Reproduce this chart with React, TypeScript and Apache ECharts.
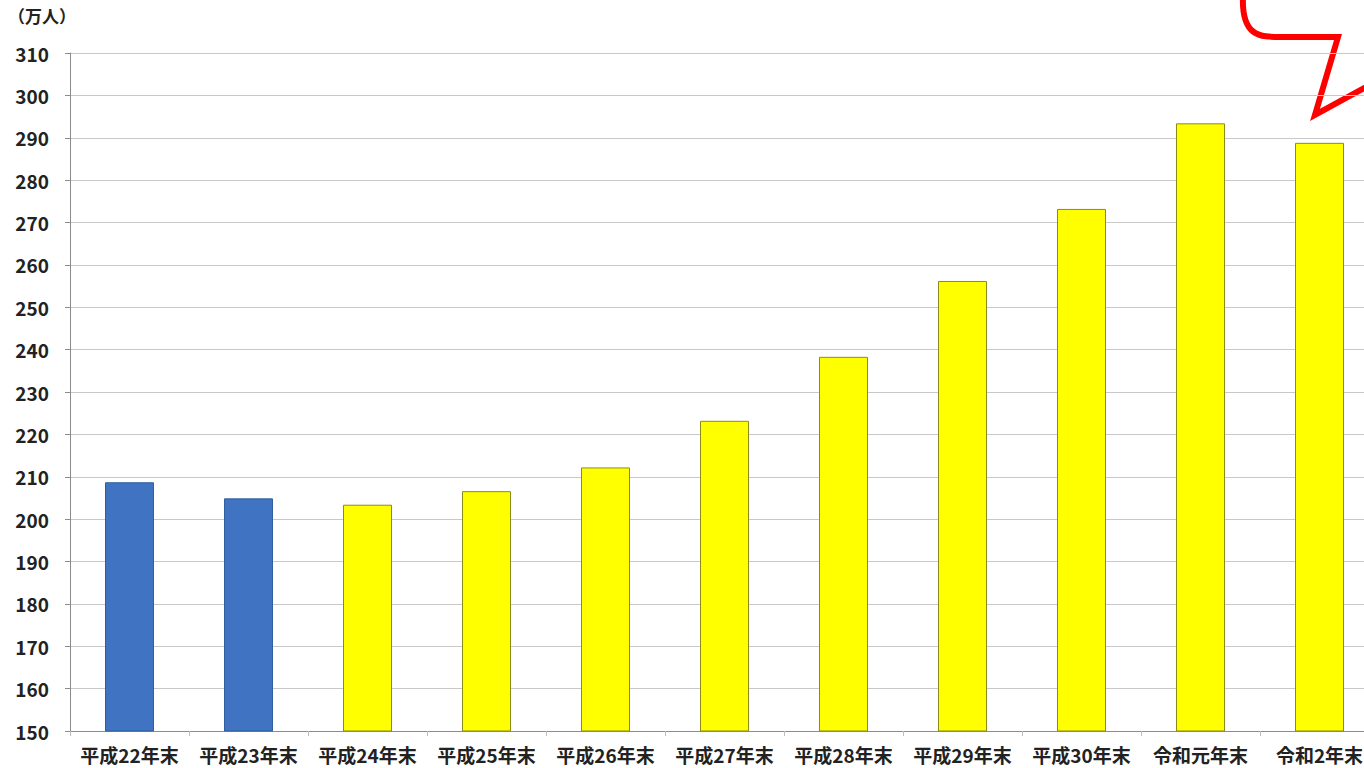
import React, { useEffect, useRef } from "react";
import * as echarts from "echarts";

const categories = [
  "平成22年末", "平成23年末", "平成24年末", "平成25年末", "平成26年末",
  "平成27年末", "平成28年末", "平成29年末", "平成30年末", "令和元年末", "令和2年末",
];
const values = [208.7, 204.9, 203.4, 206.6, 212.2, 223.2, 238.3, 256.2, 273.2, 293.4, 288.8];
const yTicks = { min: 150, max: 310, interval: 10 };
const unitLabel = "（万人）";

const FONT = "'Noto Sans CJK JP', 'Noto Sans', sans-serif";

export default function App() {
  const ref = useRef<HTMLDivElement>(null);
  useEffect(() => {
    if (!ref.current) return;
    const chart = echarts.init(ref.current, undefined, { renderer: "svg" });
    chart.setOption({
      animation: false,
      backgroundColor: "#ffffff",
      grid: { left: 70, top: 53, width: 1309, height: 678, containLabel: false },
      xAxis: {
        type: "category",
        data: categories,
        boundaryGap: true,
        axisLine: { lineStyle: { color: "#8c8c8c", width: 1 } },
        axisTick: { show: true, length: 5, lineStyle: { color: "#bdbdbd" }, alignWithLabel: false },
        axisLabel: {
          color: "#222222",
          fontFamily: FONT,
          fontSize: 19,
          fontWeight: "bold",
          margin: 14,
          interval: 0,
        },
      },
      yAxis: {
        type: "value",
        min: yTicks.min,
        max: yTicks.max,
        interval: yTicks.interval,
        axisLine: { show: true, lineStyle: { color: "#8c8c8c", width: 1 } },
        axisTick: { show: true, length: 5, lineStyle: { color: "#8c8c8c" } },
        splitLine: { show: true, lineStyle: { color: "#c8c8c8", width: 1 } },
        axisLabel: {
          color: "#222222",
          fontFamily: FONT,
          fontSize: 19,
          fontWeight: "bold",
          margin: 21,
        },
      },
      series: [
        {
          type: "bar",
          barWidth: 49,
          data: values.map((v, i) => ({
            value: v,
            itemStyle:
              i < 2
                ? { color: "#4074c3", borderColor: "#2f5f9e", borderWidth: 1 }
                : { color: "#ffff00", borderColor: "#8b8b1a", borderWidth: 1 },
          })),
        },
      ],
      graphic: [
        {
          type: "text",
          left: 8,
          top: 7,
          style: {
            text: unitLabel,
            fontFamily: FONT,
            fontSize: 17,
            fontWeight: "bold",
            fill: "#222222",
          },
        },
        {
          type: "polyline",
          shape: {
            points: [
              [1280, 37],
              [1338, 37],
              [1315, 115],
              [1368, 86],
            ],
          },
          style: { stroke: "#ff0000", lineWidth: 6, fill: null, lineJoin: "miter" },
        },
        {
          type: "bezierCurve",
          shape: { x1: 1243, y1: -5, cpx1: 1241, cpy1: 37, cpx2: 1260, cpy2: 37, x2: 1281, y2: 37 },
          style: { stroke: "#ff0000", lineWidth: 6, fill: null },
        },
      ],
    });
    return () => chart.dispose();
  }, []);
  return (
    <div style={{ position: "fixed", left: 0, top: 0, width: 1364, height: 768, overflow: "hidden", background: "#fff" }}>
      <div ref={ref} style={{ position: "absolute", left: 0, top: 0, width: 1420, height: 768 }} />
    </div>
  );
}
